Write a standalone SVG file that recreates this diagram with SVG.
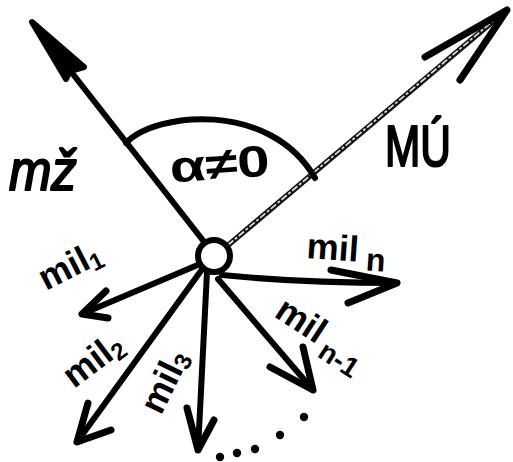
<svg xmlns="http://www.w3.org/2000/svg" width="513" height="462" viewBox="0 0 513 462">
<style>
.shaft{fill:none;stroke:#000;stroke-width:6;stroke-linecap:round;stroke-linejoin:round}
.head{fill:none;stroke:#000;stroke-width:7;stroke-linecap:round;stroke-linejoin:round}
.lbl{font-family:"Liberation Sans",Arial,sans-serif;font-weight:bold;fill:#000}
.big{font-family:"Liberation Sans",Arial,sans-serif;fill:#000;stroke:#000;stroke-width:2.2;stroke-linejoin:round}
</style>
<rect width="513" height="462" fill="#fff"/>
<g id="connectors">
  <g id="arrow-mz">
    <path class="shaft" d="M205,243 L40,32"/>
    <path d="M32,22 L84,67 L70,71 L66,79 Z" fill="#000" stroke="#000" stroke-width="6" stroke-linejoin="round"/>
  </g>
  <g id="arrow-mu">
    <path d="M226,247 L503,13" fill="none" stroke="#111" stroke-width="5.5" stroke-linecap="round"/>
    <path d="M228,245 L500,15" fill="none" stroke="#d8d8d8" stroke-width="1.8" stroke-dasharray="7 2 3 2"/>
    <path class="head" stroke-width="9" d="M425,57 L507,10 L460,80"/>
  </g>
  <path id="angle-arc" class="shaft" d="M126,143 C155,112 270,100 315,178"/>
  <g id="arrow-mil1">
    <path class="shaft" d="M200,264 L82,314"/>
    <path class="head" d="M106,291 L82,314 L108,318"/>
  </g>
  <g id="arrow-mil2">
    <path class="shaft" d="M203,268 L77,442"/>
    <path class="head" d="M88,403 L77,442 L111,430"/>
  </g>
  <g id="arrow-mil3">
    <path class="shaft" d="M207,272 L198,450"/>
    <path class="head" d="M187,408 L198,450 L214,420"/>
  </g>
  <g id="arrow-miln">
    <path class="shaft" d="M222,275 Q300,283 397,283"/>
    <path class="head" d="M331,270 L397,283 L348,303"/>
  </g>
  <g id="arrow-miln1">
    <path class="shaft" d="M218,279 L313,390"/>
    <path class="head" d="M303,347 L313,390 L270,367"/>
  </g>
</g>
<g id="hub">
  <circle cx="214" cy="256" r="16" fill="#fff" stroke="#000" stroke-width="6"/>
</g>
<g id="continuation">
  <circle cx="220" cy="457" r="4.2"/>
  <circle cx="237" cy="453" r="4.2"/>
  <circle cx="255" cy="449" r="4.2"/>
  <circle cx="280" cy="435" r="4.2"/>
  <circle cx="304" cy="417" r="4.2"/>
</g>
<g id="labels">
  <text class="big" x="9" y="190" font-size="58" font-style="italic" textLength="68" lengthAdjust="spacingAndGlyphs">mž</text>
  <text class="big" x="385" y="166" font-size="58" textLength="66" lengthAdjust="spacingAndGlyphs">MÚ</text>
  <text class="lbl" x="170" y="179" font-size="44" textLength="100" lengthAdjust="spacingAndGlyphs" transform="rotate(-4 220 170)">α≠0</text>
  <text class="lbl" font-size="36" transform="translate(46,291) rotate(-27)">mil<tspan font-size="24" dy="5">1</tspan></text>
  <text class="lbl" font-size="36" transform="translate(74,389) rotate(-37)">mil<tspan font-size="24" dy="5">2</tspan></text>
  <text class="lbl" font-size="36" transform="translate(161,416) rotate(-64)">mil<tspan font-size="24" dy="4">3</tspan></text>
  <text class="lbl" font-size="36" transform="translate(306,258) rotate(4)">mil<tspan font-size="32" dx="8" dy="8">n</tspan></text>
  <text class="lbl" font-size="36" transform="translate(273,316) rotate(33)">mil<tspan font-size="28" dx="6" dy="10">n-1</tspan></text>
</g>
</svg>
